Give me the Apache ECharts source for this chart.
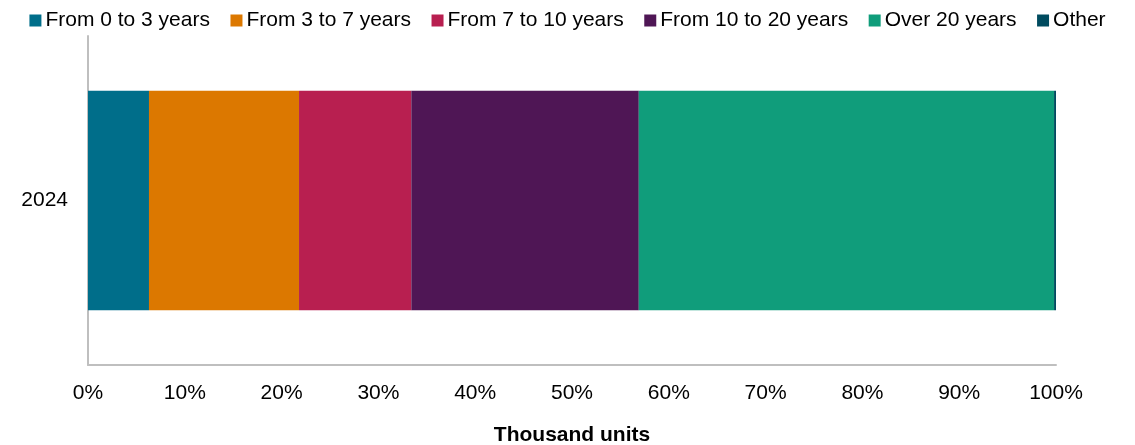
<!DOCTYPE html>
<html>
<head>
<meta charset="utf-8">
<script src="https://cdn.jsdelivr.net/npm/echarts@6/dist/echarts.min.js"></script>
<style>
  html, body { margin: 0; padding: 0; background: #fff; }
  #chart { width: 1135px; height: 445px; }
</style>
</head>
<body>
<div id="chart"></div>
<script>
// Share of units by age band, 2024 (percent of total)
const categories = ['2024'];
const seriesNames = ['From 0 to 3 years', 'From 3 to 7 years', 'From 7 to 10 years', 'From 10 to 20 years', 'Over 20 years', 'Other'];
const seriesValues = [
  [6.3],
  [15.5],
  [11.6],
  [23.5],
  [42.9],
  [0.2]
];
const seriesColors = ['#006E8A', '#DC7800', '#B81F50', '#4F1655', '#109D7B', '#004B5F'];
const xTicks = { min: 0, max: 100, interval: 10 };
const axisName = 'Thousand units';

const FONT = '"Liberation Sans", Arial, sans-serif';
const FS = 21;

const chart = echarts.init(document.getElementById('chart'), null, { renderer: 'canvas' });
chart.setOption({
  animation: false,
  textStyle: { fontFamily: FONT },
  legend: {
    top: 5,
    left: 'center',
    itemWidth: 12,
    itemHeight: 12,
    itemGap: 20.5,
    icon: 'rect',
    textStyle: { fontFamily: FONT, fontSize: FS, color: '#000', padding: [0, 0, 0, -1] },
    data: seriesNames
  },
  // fixed plot rectangle; labels and axis name are placed outside it without shrinking it
  grid: { left: 88, right: 79, top: 36, bottom: 80, containLabel: false, outerBoundsMode: 'none' },
  xAxis: {
    type: 'value',
    min: xTicks.min,
    max: xTicks.max,
    interval: xTicks.interval,
    name: axisName,
    nameLocation: 'middle',
    nameGap: 60,
    nameTextStyle: { fontFamily: FONT, fontSize: FS, fontWeight: 'bold', color: '#000' },
    axisLine: { show: true, lineStyle: { color: '#BFBFBF', width: 2 } },
    axisTick: { show: false },
    splitLine: { show: false },
    axisLabel: { formatter: '{value}%', fontFamily: FONT, fontSize: FS, color: '#000', margin: 18 }
  },
  yAxis: {
    type: 'category',
    data: categories,
    axisLine: { show: true, lineStyle: { color: '#BFBFBF', width: 2 } },
    axisTick: { show: false },
    axisLabel: { fontFamily: FONT, fontSize: FS, color: '#000', margin: 20 }
  },
  series: seriesNames.map((name, i) => ({
    name: name,
    type: 'bar',
    stack: 'total',
    barWidth: '66.7%',
    itemStyle: { color: seriesColors[i] },
    data: seriesValues[i]
  }))
});
</script>
</body>
</html>
